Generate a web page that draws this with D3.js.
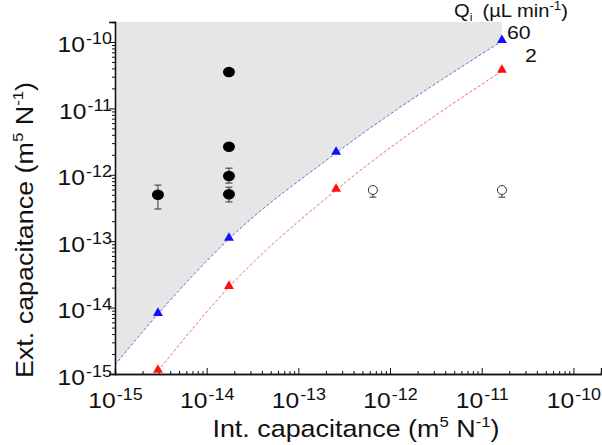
<!DOCTYPE html>
<html><head><meta charset="utf-8">
<script src="https://cdn.jsdelivr.net/npm/d3@7"></script>
<style>body{margin:0;background:#fff}svg{display:block}text{font-family:"Liberation Sans",Arial,sans-serif;fill:#111}</style>
</head><body><svg id="c" width="602" height="445"></svg>
<script>
// data
const blueX = [1e-15, 2.94e-15, 1.75e-14, 2.58e-13, 1.66e-11];   // first point: fit extrapolation
const blueY = [1.37e-15, 8.0e-15, 1.08e-13, 2.13e-12, 1.03e-10];
const blueMarker = [false, true, true, true, true];
const redX = [2.94e-15, 1.75e-14, 2.58e-13, 1.66e-11];
const redY = [1.11e-15, 2.04e-14, 5.9e-13, 3.66e-11];
const filledX = [2.94e-15, 1.75e-14, 1.75e-14, 1.75e-14, 1.75e-14];
const filledY = [5.0e-13, 3.53e-11, 2.65e-12, 9.6e-13, 5.1e-13];
const filledLo = [3.05e-13, 3.53e-11, 2.65e-12, 7.5e-13, 3.9e-13];
const filledHi = [7.0e-13, 3.53e-11, 2.65e-12, 1.26e-12, 6.5e-13];
const openX = [6.5e-13, 1.66e-11];
const openY = [5.9e-13, 5.9e-13];
const openLo = [4.6e-13, 4.6e-13];
const openHi = [5.9e-13, 5.9e-13];
const majorTicks = [1e-15, 1e-14, 1e-13, 1e-12, 1e-11, 1e-10];
const tickExp = ["-15", "-14", "-13", "-12", "-11", "-10"];
const seriesLabels = ["60", "2"];

const svg = d3.select("#c");
const x = d3.scaleLog().domain([1e-15, 2e-10]).range([115, 601]);
const y = d3.scaleLog().domain([1e-15, 2e-10]).range([374, 22]);
const SX = 1.12; // horizontal stretch of text as in the reference

const minors = [];
for (let e = -15; e <= -10; e++) for (let m = 2; m <= 9; m++) { const v = m * Math.pow(10, e); if (v <= 2.0001e-10) minors.push(v); }

// gray region: above the 60 line
const bluePts = blueX.map((d, i) => [d, blueY[i]]);
const area = d3.area().x(d => x(d[0])).y0(y(2e-10)).y1(d => y(d[1])).curve(d3.curveMonotoneX);
svg.append("path").attr("d", area(bluePts)).attr("fill", "#e6e6e6");

// lines
const line = d3.line().x(d => x(d[0])).y(d => y(d[1])).curve(d3.curveMonotoneX);
svg.append("path").attr("d", line(bluePts)).attr("fill", "none").attr("stroke", "#6070d8").attr("stroke-width", 1).attr("stroke-dasharray", "3,2");
const redPts = redX.map((d, i) => [d, redY[i]]);
svg.append("path").attr("d", line(redPts)).attr("fill", "none").attr("stroke", "#f06a6a").attr("stroke-width", 1).attr("stroke-dasharray", "3,2");

// axes
const xa = svg.append("g").attr("transform", `translate(0,${y.range()[0]})`);
xa.call(d3.axisBottom(x).tickValues(minors).tickSize(-3).tickFormat(""));
const xm = svg.append("g").attr("transform", `translate(0,${y.range()[0]})`);
xm.call(d3.axisBottom(x).tickValues(majorTicks).tickSize(-6).tickFormat(""));
const ya = svg.append("g").attr("transform", `translate(${x.range()[0]},0)`);
ya.call(d3.axisLeft(y).tickValues(minors).tickSize(3).tickFormat(""));
const ym = svg.append("g").attr("transform", `translate(${x.range()[0]},0)`);
ym.call(d3.axisLeft(y).tickValues(majorTicks).tickSize(6).tickFormat(""));
svg.selectAll(".domain").attr("stroke", "#111").attr("stroke-width", 1.3);
svg.selectAll(".tick line").attr("stroke", "#111");

function supLabel(sel, i) {
  sel.text(null);
  sel.append("tspan").text("10");
  sel.append("tspan").attr("font-size", "16px").attr("dy", "-0.5em").attr("dx", "1").text(tickExp[i]);
}
xm.selectAll(".tick").each(function(d, i) {
  const t = d3.select(this).append("g").attr("transform", `translate(0,34) scale(${SX},1)`)
    .append("text").attr("text-anchor", "middle").attr("font-size", "22px").attr("fill", "#111");
  supLabel(t, i);
});
ym.selectAll(".tick").each(function(d, i) {
  const t = d3.select(this).append("g").attr("transform", `translate(-3,10) scale(${SX},1)`)
    .append("text").attr("text-anchor", "end").attr("font-size", "22px").attr("fill", "#111");
  supLabel(t, i);
});

// error bars
function errBars(xs, lo, hi) {
  xs.forEach((xv, i) => {
    if (lo[i] === hi[i]) return;
    const cx = x(xv);
    svg.append("line").attr("x1", cx).attr("x2", cx).attr("y1", y(lo[i])).attr("y2", y(hi[i])).attr("stroke", "#333").attr("stroke-width", 1);
    [lo[i], hi[i]].forEach(v => svg.append("line").attr("x1", cx - 3.5).attr("x2", cx + 3.5).attr("y1", y(v)).attr("y2", y(v)).attr("stroke", "#333").attr("stroke-width", 1));
  });
}
errBars(filledX, filledLo, filledHi);
errBars(openX, openLo, openHi);

svg.selectAll(".fc").data(filledX).enter().append("ellipse")
  .attr("cx", d => x(d)).attr("cy", (d, i) => y(filledY[i])).attr("rx", 6).attr("ry", 5.3).attr("fill", "#000");
svg.selectAll(".oc").data(openX).enter().append("circle")
  .attr("cx", d => x(d)).attr("cy", (d, i) => y(openY[i])).attr("r", 4.5).attr("fill", "#fff").attr("stroke", "#333").attr("stroke-width", 1);

const tri = d3.symbol().type(d3.symbolTriangle).size(42);
blueX.forEach((d, i) => { if (blueMarker[i]) svg.append("path").attr("d", tri()).attr("transform", `translate(${x(d)},${y(blueY[i]) - 1})`).attr("fill", "#1010ff"); });
redX.forEach((d, i) => svg.append("path").attr("d", tri()).attr("transform", `translate(${x(d)},${y(redY[i]) - 1})`).attr("fill", "#ff1010"));

// series labels
svg.append("g").attr("transform", `translate(${x(blueX[4]) + 5},39) scale(${SX},1)`)
  .append("text").attr("font-size", "19px").text(seriesLabels[0]);
svg.append("g").attr("transform", `translate(${x(redX[3]) + 23},62) scale(${SX},1)`)
  .append("text").attr("font-size", "19px").text(seriesLabels[1]);
const q = svg.append("g").attr("transform", `translate(454,17) scale(${SX},1)`).append("text").attr("font-size", "18px");
q.append("tspan").text("Q");
q.append("tspan").attr("font-size", "11px").attr("dy", "4").text("i");
q.append("tspan").attr("dy", "-4").attr("dx", "9").text("(µL min");
q.append("tspan").attr("font-size", "12px").attr("dy", "-7").text("-1");
q.append("tspan").attr("dy", "7").text(")");

// axis titles
function title(t, parts) {
  parts.forEach(p => {
    const s = t.append("tspan").text(p[0]);
    if (p[1] === "sup") s.attr("font-size", "15px").attr("dy", "-10");
    if (p[1] === "back") s.attr("dy", "10");
  });
}
const xt = svg.append("g").attr("transform", `translate(356,437) scale(${SX},1)`)
  .append("text").attr("text-anchor", "middle").attr("font-size", "24px");
title(xt, [["Int. capacitance (m"], ["5", "sup"], [" N", "back"], ["-1", "sup"], [")", "back"]]);
const yt = svg.append("g").attr("transform", `translate(33,230) rotate(-90) scale(${SX},1)`)
  .append("text").attr("text-anchor", "middle").attr("font-size", "24px");
title(yt, [["Ext. capacitance (m"], ["5", "sup"], [" N", "back"], ["-1", "sup"], [")", "back"]]);
</script></body></html>
